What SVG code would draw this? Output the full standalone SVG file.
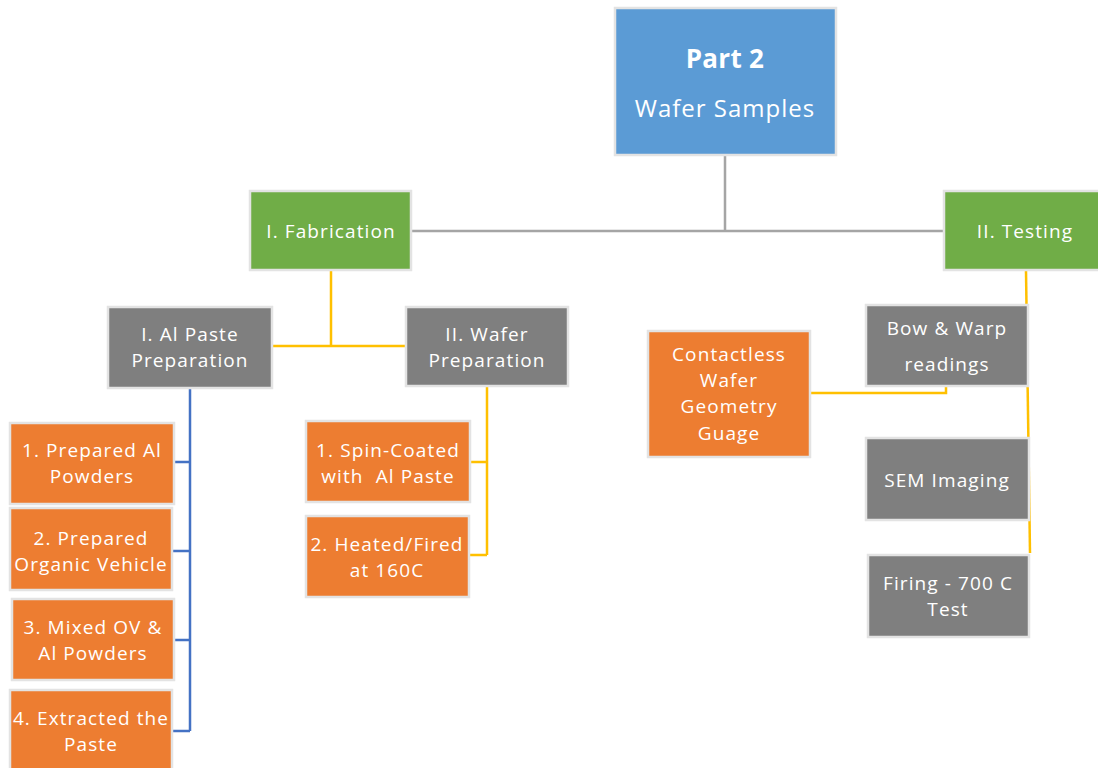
<svg xmlns="http://www.w3.org/2000/svg" width="1098" height="768" viewBox="0 0 1098 768">
  <defs>
    <style>
      .box { stroke: #e3e3e3; stroke-width: 2.5; }
      .blue { fill: #5b9bd5; }
      .green { fill: #70ad47; }
      .gray { fill: #7f7f7f; }
      .orange { fill: #ed7d31; }
      text { font-family: "Open Sans", "Noto Sans", sans-serif; fill: #ffffff; text-anchor: middle; dominant-baseline: central; font-size: 19px; letter-spacing: 1.1px; }
      .title { font-size: 26px; font-weight: bold; letter-spacing: 0.3px; }
      .sub { font-size: 24px; letter-spacing: 1px; }
      .c-gray { stroke: #a5a5a5; stroke-width: 2.5; fill: none; }
      .c-yel { stroke: #ffc000; stroke-width: 2.5; fill: none; }
      .c-blue { stroke: #4472c4; stroke-width: 2.5; fill: none; }
    </style>
  </defs>

  <!-- connectors -->
  <g id="connectors">
    <path class="c-gray" d="M725,156 V231 M412,231 H944"/>
    <path class="c-yel" d="M331,271 V346 M272,346 H406"/>
    <path class="c-blue" d="M190,388 V731 M174,462 H190 M172,551 H190 M174,640 H190 M172,731 H190"/>
    <path class="c-yel" d="M487,386 V555 M470,462 H487 M469,555 H487"/>
    <path class="c-yel" d="M1026,271 L1030,553"/>
    <path class="c-yel" d="M810,393 H946 V386"/>
  </g>

  <g id="root">
    <rect class="box blue" x="615" y="8" width="221" height="147"/>
    <text class="title" x="725" y="58">Part 2</text>
    <text class="sub" x="725" y="107">Wafer Samples</text>
  </g>

  <g id="fabrication">
    <rect class="box green" x="250" y="191" width="161" height="79"/>
    <text x="331" y="231">I. Fabrication</text>
  </g>

  <g id="testing">
    <rect class="box green" x="944" y="191" width="160" height="79"/>
    <text x="1025" y="231">II. Testing</text>
  </g>

  <g id="al-paste-prep">
    <rect class="box gray" x="108" y="307" width="164" height="81"/>
    <text x="190" y="334">I. Al Paste</text>
    <text x="190" y="360">Preparation</text>
  </g>

  <g id="wafer-prep">
    <rect class="box gray" x="406" y="307" width="162" height="79"/>
    <text x="487" y="334">II. Wafer</text>
    <text x="487" y="360">Preparation</text>
  </g>

  <g id="step-al-powders">
    <rect class="box orange" x="10" y="423" width="164" height="81"/>
    <text x="92" y="450">1. Prepared Al</text>
    <text x="92" y="476">Powders</text>
  </g>

  <g id="step-organic-vehicle">
    <rect class="box orange" x="10" y="508" width="162" height="82"/>
    <text x="91" y="538">2. Prepared</text>
    <text x="91" y="564">Organic Vehicle</text>
  </g>

  <g id="step-mixed">
    <rect class="box orange" x="12" y="599" width="162" height="81"/>
    <text x="93" y="627">3. Mixed OV &amp;</text>
    <text x="93" y="653">Al Powders</text>
  </g>

  <g id="step-extracted">
    <rect class="box orange" x="10" y="690" width="162" height="82"/>
    <text x="91" y="718">4. Extracted the</text>
    <text x="91" y="744">Paste</text>
  </g>

  <g id="step-spin-coated">
    <rect class="box orange" x="306" y="421" width="164" height="81"/>
    <text x="388" y="450">1. Spin-Coated</text>
    <text x="388" y="476" xml:space="preserve">with  Al Paste</text>
  </g>

  <g id="step-heated">
    <rect class="box orange" x="306" y="516" width="163" height="81"/>
    <text x="387" y="544">2. Heated/Fired</text>
    <text x="387" y="570">at 160C</text>
  </g>

  <g id="gauge">
    <rect class="box orange" x="648" y="331" width="162" height="126"/>
    <text x="729" y="354">Contactless</text>
    <text x="729" y="380">Wafer</text>
    <text x="729" y="406">Geometry</text>
    <text x="729" y="433">Guage</text>
  </g>

  <g id="bow-warp">
    <rect class="box gray" x="866" y="305" width="162" height="81"/>
    <text x="947" y="328">Bow &amp; Warp</text>
    <text x="947" y="364">readings</text>
  </g>

  <g id="sem">
    <rect class="box gray" x="866" y="438" width="163" height="82"/>
    <text x="947" y="480">SEM Imaging</text>
  </g>

  <g id="firing">
    <rect class="box gray" x="868" y="555" width="161" height="82"/>
    <text x="948" y="583">Firing - 700 C</text>
    <text x="948" y="609">Test</text>
  </g>
</svg>
